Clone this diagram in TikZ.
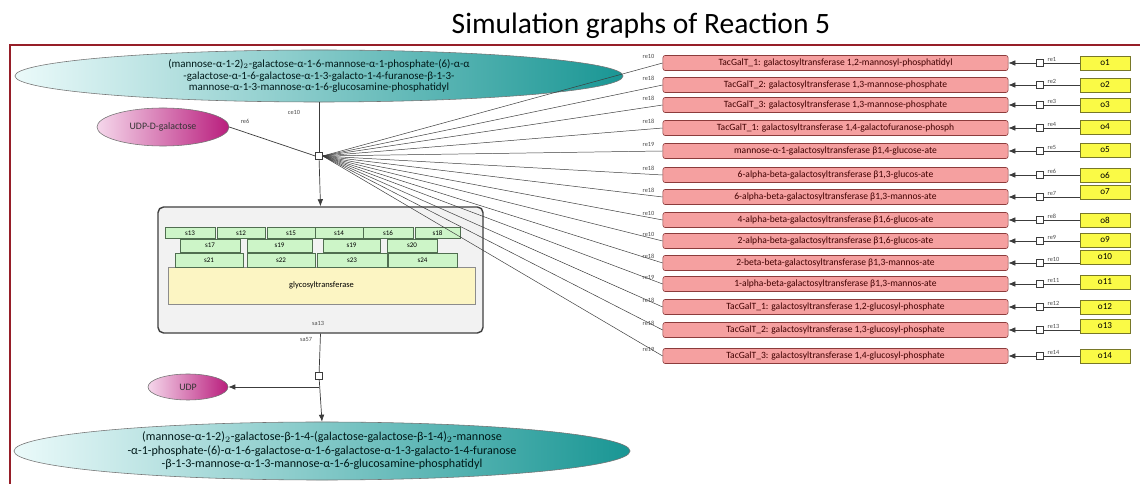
\documentclass[tikz,border=0pt]{standalone}
\usepackage{fontspec}
\setmainfont{Carlito}
\setsansfont{Carlito}
\usetikzlibrary{arrows.meta,shapes.geometric}
\definecolor{framec}{RGB}{150,30,40}
\definecolor{pinkfill}{RGB}{245,160,160}
\definecolor{pinkdraw}{RGB}{140,60,60}
\definecolor{yelfill}{RGB}{250,250,70}
\definecolor{yeldraw}{RGB}{120,120,40}
\definecolor{grnfill}{RGB}{205,245,200}
\definecolor{grndraw}{RGB}{80,110,80}
\definecolor{cpxfill}{RGB}{242,242,242}
\definecolor{enzfill}{RGB}{252,245,195}
\definecolor{tealdark}{RGB}{25,150,148}
\definecolor{teallight}{RGB}{235,250,250}
\definecolor{magdark}{RGB}{185,30,125}
\definecolor{maglight}{RGB}{245,215,235}
\definecolor{linec}{RGB}{60,60,60}
\tikzset{
 pinkbox/.style={draw=pinkdraw, fill=pinkfill, rounded corners=1.5pt, minimum width=8.625cm, minimum height=0.375cm, inner sep=0pt, font=\fontsize{6.8}{7}\selectfont, text=black!75!red},
 yelbox/.style={draw=yeldraw, fill=yelfill, minimum width=1.25cm, minimum height=0.36cm, inner sep=0pt, font=\fontsize{6.5}{7}\selectfont},
 grnbox/.style={draw=grndraw, fill=grnfill, inner sep=0pt, font=\fontsize{5}{6}\selectfont},
 rxn/.style={draw=linec, fill=white, minimum size=0.17cm, inner sep=0pt},
 conn/.style={draw=linec, line width=0.5pt},
 fanline/.style={draw=linec, line width=0.35pt},
 arr/.style={conn, -{Latex[length=5pt,width=4pt]}},
 lab/.style={font=\fontsize{4.5}{5}\selectfont, text=black!70, inner sep=1pt},
 species/.style={ellipse, draw=black!55, inner sep=0pt, align=center},
 tealsp/.style={species, left color=teallight, right color=tealdark, text=black!80!teal},
 magsp/.style={species, left color=maglight, right color=magdark, font=\fontsize{7}{8}\selectfont, text=black!80},
}
\begin{document}
\begin{tikzpicture}[x=0.025cm, y=-0.025cm]
\path[use as bounding box] (0,0) rectangle (1140,484);
\fill[white] (0,0) rectangle (1140,484);
% title and frame
\node[font=\fontsize{21}{23}\selectfont, text=black] (title) at (641,26) {Simulation graphs of Reaction 5};
\draw[framec, line width=1.2pt] (10,490) -- (10,45) -- (1140,45);

% species
\node[tealsp, minimum width=15.2cm, minimum height=1.3cm, font=\fontsize{7.8}{8.4}\selectfont] (top) at (319,76)
 {(mannose-α-1-2)$_2$-galactose-α-1-6-mannose-α-1-phosphate-(6)-α-α\\
  -galactose-α-1-6-galactose-α-1-3-galacto-1-4-furanose-β-1-3-\\
  mannose-α-1-3-mannose-α-1-6-glucosamine-phosphatidyl};
\node[magsp, minimum width=3.3cm, minimum height=0.95cm] (udpg) at (163,127) {UDP-D-galactose};
\node[tealsp, minimum width=15.4cm, minimum height=1.45cm, font=\fontsize{8.6}{9.6}\selectfont] (bot) at (322,451)
 {(mannose-α-1-2)$_2$-galactose-β-1-4-(galactose-galactose-β-1-4)$_2$-mannose\\
  -α-1-phosphate-(6)-α-1-6-galactose-α-1-6-galactose-α-1-3-galacto-1-4-furanose\\
  -β-1-3-mannose-α-1-3-mannose-α-1-6-glucosamine-phosphatidyl};
\node[magsp, minimum width=2cm, minimum height=0.65cm] (udp) at (188,387) {UDP};

% reaction squares
\node[rxn] (r1) at (319,156) {};
\node[rxn] (r2) at (319,376) {};
\node[lab] (lce) at (294,112) {ce10};
\node[lab] (lre6) at (245,121) {re6};

% complex
\node[draw=black!75, line width=1pt, fill=cpxfill, rounded corners=4pt, minimum width=8.125cm, minimum height=3.15cm] (cpx) at (320.5,270) {};
\node[draw=black!45, fill=enzfill, minimum width=7.675cm, minimum height=0.925cm, font=\fontsize{6}{7}\selectfont] (enz) at (321.5,285.5) {glycosyltransferase};
\node[grnbox, minimum width=1.25cm, minimum height=0.275cm] (g1) at (190,233) {s13};
\node[grnbox, minimum width=1.2cm, minimum height=0.275cm] (g2) at (241,233) {s12};
\node[grnbox, minimum width=1.2cm, minimum height=0.275cm] (g3) at (291,233) {s15};
\node[grnbox, minimum width=1.2cm, minimum height=0.275cm] (g4) at (339,233) {s14};
\node[grnbox, minimum width=1.25cm, minimum height=0.275cm] (g5) at (388,233) {s16};
\node[grnbox, minimum width=1.125cm, minimum height=0.275cm] (g6) at (437.5,233) {s18};
\node[grnbox, minimum width=1.5cm, minimum height=0.325cm] (g7) at (210,245.5) {s17};
\node[grnbox, minimum width=1.625cm, minimum height=0.325cm] (g8) at (279.5,245.5) {s19};
\node[grnbox, minimum width=1.425cm, minimum height=0.325cm] (g9) at (351.5,245.5) {s19};
\node[grnbox, minimum width=1.25cm, minimum height=0.325cm] (g10) at (412,245.5) {s20};
\node[grnbox, minimum width=1.7cm, minimum height=0.35cm] (g11) at (209,260) {s21};
\node[grnbox, minimum width=1.7cm, minimum height=0.35cm] (g12) at (281,260) {s22};
\node[grnbox, minimum width=1.75cm, minimum height=0.35cm] (g13) at (352,260) {s23};
\node[grnbox, minimum width=1.725cm, minimum height=0.35cm] (g14) at (422.5,260) {s24};
\node[lab] (ls13) at (318,323) {sa13};
\node[lab] (ls57) at (306,339) {sa57};

% main connectors
\draw[conn] (top.south) -- (r1);
\draw[conn] (udpg.east) -- (r1.west);
\draw[arr] (r1) -- (cpx.north);
\draw[conn] (cpx.south) -- (r2);
\draw[arr] (r2) -- (bot.north);
\coordinate (br) at (319,387);
\draw[arr] (br) -- (udp.east);

% pink enzymes, yellow sources, reactions
\node[pinkbox] (p1) at (835.5,63) {TacGalT\_1: galactosyltransferase 1,2-mannosyl-phosphatidyl};
\node[pinkbox] (p2) at (835.5,85) {TacGalT\_2: galactosyltransferase 1,3-mannose-phosphate};
\node[pinkbox] (p3) at (835.5,105) {TacGalT\_3: galactosyltransferase 1,3-mannose-phosphate};
\node[pinkbox] (p4) at (835.5,128) {TacGalT\_1: galactosyltransferase 1,4-galactofuranose-phosph};
\node[pinkbox] (p5) at (835.5,151) {mannose-α-1-galactosyltransferase β1,4-glucose-ate};
\node[pinkbox] (p6) at (835.5,175) {6-alpha-beta-galactosyltransferase β1,3-glucos-ate};
\node[pinkbox] (p7) at (835.5,197) {6-alpha-beta-galactosyltransferase β1,3-mannos-ate};
\node[pinkbox] (p8) at (835.5,220) {4-alpha-beta-galactosyltransferase β1,6-glucos-ate};
\node[pinkbox] (p9) at (835.5,241) {2-alpha-beta-galactosyltransferase β1,6-glucos-ate};
\node[pinkbox] (p10) at (835.5,263) {2-beta-beta-galactosyltransferase β1,3-mannos-ate};
\node[pinkbox] (p11) at (835.5,284) {1-alpha-beta-galactosyltransferase β1,3-mannos-ate};
\node[pinkbox] (p12) at (835.5,307) {TacGalT\_1: galactosyltransferase 1,2-glucosyl-phosphate};
\node[pinkbox] (p13) at (835.5,330) {TacGalT\_2: galactosyltransferase 1,3-glucosyl-phosphate};
\node[pinkbox] (p14) at (835.5,356) {TacGalT\_3: galactosyltransferase 1,4-glucosyl-phosphate};

\foreach \i/\yo in {1/63,2/85,3/105,4/127,5/150,6/175,7/192,8/220,9/240,10/257,11/282,12/307,13/326,14/356}{
  \node[yelbox] (o\i) at (1105,\yo) {o\i};
}
\foreach \i/\yp/\lb in {1/63/re10,2/85/re18,3/105/re18,4/128/re18,5/151/re19,6/175/re18,7/197/re18,8/220/re10,9/241/re10,10/263/re18,11/284/re19,12/307/re18,13/330/re18,14/356/re19}{
  \node[rxn] (q\i) at (1040,\yp) {};
  \draw[conn] (o\i.west |- p\i.east) -- (q\i.east);
  \draw[arr] (q\i.west) -- (p\i.east);
  \node[lab, anchor=south west] (lq\i) at (1046,\yp) {re\i};
  \draw[fanline] (r1.east) -- (p\i.west);
  \node[lab, anchor=south east] (lf\i) at (656,\yp-3) {\lb};
}
\end{tikzpicture}
\end{document}
